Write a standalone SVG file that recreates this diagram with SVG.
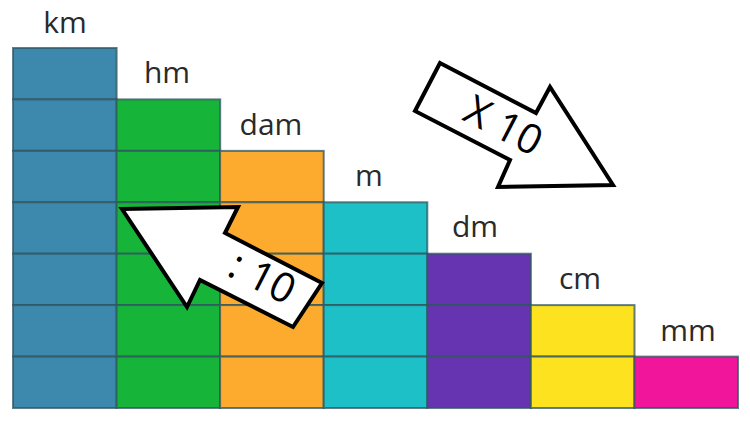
<svg xmlns="http://www.w3.org/2000/svg" width="750" height="422" viewBox="0 0 750 422">
<style>
.cell{stroke:#2f5560;stroke-opacity:0.75;stroke-width:2}
.lbl{font-family:"Open Sans","Liberation Sans",sans-serif;font-size:30px;fill:#2a2a2a;text-anchor:middle}
.arrow{fill:#fff;stroke:#000;stroke-width:4;stroke-linejoin:miter}
.atxt{font-family:"Open Sans","Liberation Sans",sans-serif;font-size:41px;fill:#000;text-anchor:middle}
.km{fill:#3d88ad}.hm{fill:#16b53a}.dam{fill:#fcab2f}.m{fill:#1cc0c6}.dm{fill:#6734b1}.cm{fill:#fde21f}.mm{fill:#f1159c}
</style>
<rect width="750" height="422" fill="#fff"/>
<g id="km">
<text class="lbl" x="65" y="33">km</text>
<rect class="cell km" x="13" y="48" width="103.6" height="51.4"/>
<rect class="cell km" x="13" y="99.4" width="103.6" height="51.4"/>
<rect class="cell km" x="13" y="150.9" width="103.6" height="51.4"/>
<rect class="cell km" x="13" y="202.3" width="103.6" height="51.4"/>
<rect class="cell km" x="13" y="253.7" width="103.6" height="51.4"/>
<rect class="cell km" x="13" y="305.1" width="103.6" height="51.4"/>
<rect class="cell km" x="13" y="356.6" width="103.6" height="51.4"/>
</g>
<g id="hm">
<text class="lbl" x="167" y="83">hm</text>
<rect class="cell hm" x="116.6" y="99.4" width="103.6" height="51.4"/>
<rect class="cell hm" x="116.6" y="150.9" width="103.6" height="51.4"/>
<rect class="cell hm" x="116.6" y="202.3" width="103.6" height="51.4"/>
<rect class="cell hm" x="116.6" y="253.7" width="103.6" height="51.4"/>
<rect class="cell hm" x="116.6" y="305.1" width="103.6" height="51.4"/>
<rect class="cell hm" x="116.6" y="356.6" width="103.6" height="51.4"/>
</g>
<g id="dam">
<text class="lbl" x="271" y="135">dam</text>
<rect class="cell dam" x="220.1" y="150.9" width="103.6" height="51.4"/>
<rect class="cell dam" x="220.1" y="202.3" width="103.6" height="51.4"/>
<rect class="cell dam" x="220.1" y="253.7" width="103.6" height="51.4"/>
<rect class="cell dam" x="220.1" y="305.1" width="103.6" height="51.4"/>
<rect class="cell dam" x="220.1" y="356.6" width="103.6" height="51.4"/>
</g>
<g id="m">
<text class="lbl" x="369" y="186">m</text>
<rect class="cell m" x="323.7" y="202.3" width="103.6" height="51.4"/>
<rect class="cell m" x="323.7" y="253.7" width="103.6" height="51.4"/>
<rect class="cell m" x="323.7" y="305.1" width="103.6" height="51.4"/>
<rect class="cell m" x="323.7" y="356.6" width="103.6" height="51.4"/>
</g>
<g id="dm">
<text class="lbl" x="475" y="237">dm</text>
<rect class="cell dm" x="427.3" y="253.7" width="103.6" height="51.4"/>
<rect class="cell dm" x="427.3" y="305.1" width="103.6" height="51.4"/>
<rect class="cell dm" x="427.3" y="356.6" width="103.6" height="51.4"/>
</g>
<g id="cm">
<text class="lbl" x="580" y="289">cm</text>
<rect class="cell cm" x="530.9" y="305.1" width="103.6" height="51.4"/>
<rect class="cell cm" x="530.9" y="356.6" width="103.6" height="51.4"/>
</g>
<g id="mm">
<text class="lbl" x="688" y="341">mm</text>
<rect class="cell mm" x="634.4" y="356.6" width="103.6" height="51.4"/>
</g>
<g id="connectors">
<g id="arrow-x10">
<polygon class="arrow" points="440,63 536,113 550,87 613,185 498,187 510,160 415,111"/>
<text class="atxt" transform="translate(497,138) rotate(27.5)">X 10</text>
</g>
<g id="arrow-div10">
<polygon class="arrow" points="122,209 238,207 225,233 322,283 293,327 200,280 187,307"/>
<text class="atxt" transform="translate(256,290) rotate(27)">: 10</text>
</g>
</g>
</svg>
